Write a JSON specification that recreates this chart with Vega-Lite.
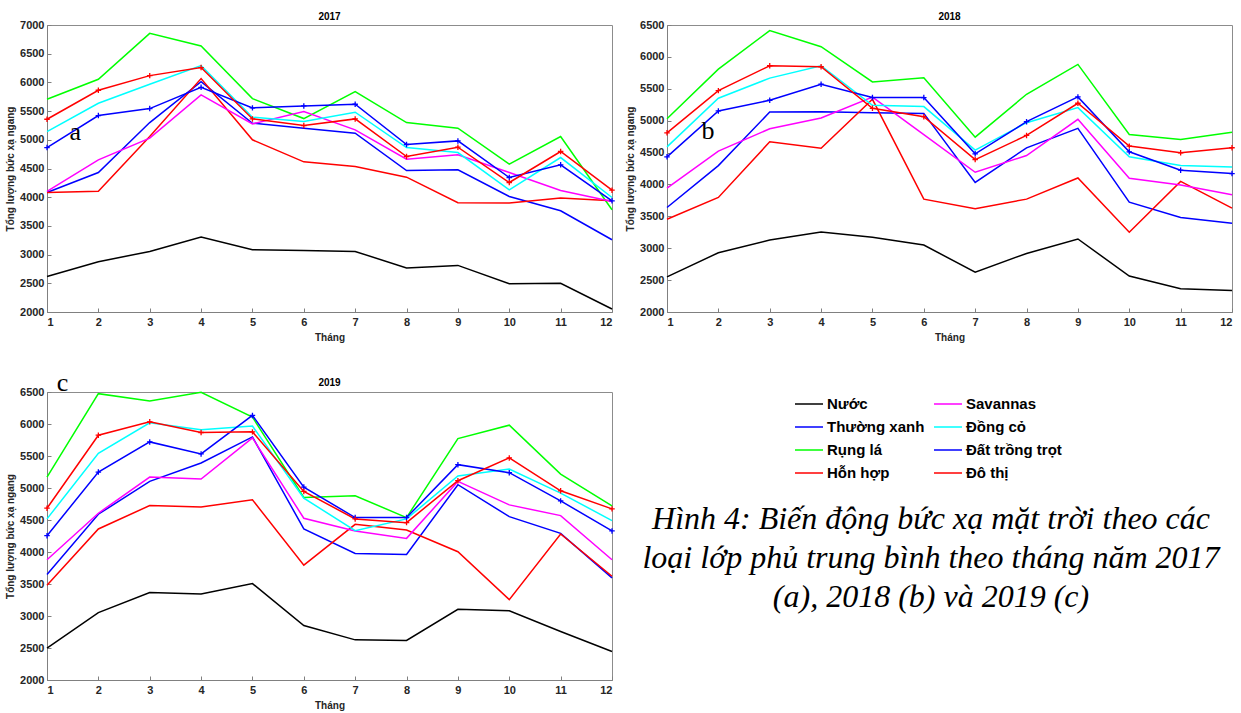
{
  "$schema": "https://vega.github.io/schema/vega-lite/v6.json",
  "padding": {"left": 5, "top": 11, "right": 0, "bottom": 0},
  "background": "white",
  "config": {
    "view": {"stroke": "#8c8c8c", "strokeWidth": 1},
    "axis": {
      "grid": false, "labelOverlap": false,
      "labelFont": "Liberation Sans", "labelFontWeight": "bold", "labelFontSize": 11, "labelColor": "#262626",
      "titleFont": "Liberation Sans", "titleFontWeight": "bold", "titleFontSize": 10, "titleColor": "#262626",
      "domainColor": "#808080", "tickColor": "#808080", "tickSize": -4
    },
    "axisX": {"labelPadding": 8, "titlePadding": 5},
    "axisY": {"labelPadding": 7, "titlePadding": 4},
    "title": {"font": "Liberation Sans", "fontWeight": "bold", "fontSize": 10, "color": "#000000", "offset": -3},
    "legend": {
      "labelFont": "Liberation Sans", "labelFontWeight": "bold", "labelFontSize": 15, "labelColor": "#000000",
      "symbolType": "stroke", "symbolSize": 784, "symbolStrokeWidth": 1.5, "labelOffset": 3,
      "rowPadding": 0, "columnPadding": 6, "padding": 0
    }
  },
  "datasets": {
    "d": [
      {"year":2017,"month":1,"type":"Nước","value":2620},{"year":2017,"month":2,"type":"Nước","value":2876},{"year":2017,"month":3,"type":"Nước","value":3055},{"year":2017,"month":4,"type":"Nước","value":3305},{"year":2017,"month":5,"type":"Nước","value":3085},{"year":2017,"month":6,"type":"Nước","value":3073},{"year":2017,"month":7,"type":"Nước","value":3055},{"year":2017,"month":8,"type":"Nước","value":2766},{"year":2017,"month":9,"type":"Nước","value":2812},{"year":2017,"month":10,"type":"Nước","value":2493},{"year":2017,"month":11,"type":"Nước","value":2500},{"year":2017,"month":12,"type":"Nước","value":2052},
      {"year":2017,"month":1,"type":"Thường xanh","value":4082},{"year":2017,"month":2,"type":"Thường xanh","value":4430},{"year":2017,"month":3,"type":"Thường xanh","value":5300},{"year":2017,"month":4,"type":"Thường xanh","value":6014},{"year":2017,"month":5,"type":"Thường xanh","value":5289},{"year":2017,"month":6,"type":"Thường xanh","value":5202},{"year":2017,"month":7,"type":"Thường xanh","value":5115},{"year":2017,"month":8,"type":"Thường xanh","value":4465},{"year":2017,"month":9,"type":"Thường xanh","value":4477},{"year":2017,"month":10,"type":"Thường xanh","value":4013},{"year":2017,"month":11,"type":"Thường xanh","value":3763},{"year":2017,"month":12,"type":"Thường xanh","value":3259},
      {"year":2017,"month":1,"type":"Rụng lá","value":5707},{"year":2017,"month":2,"type":"Rụng lá","value":6055},{"year":2017,"month":3,"type":"Rụng lá","value":6855},{"year":2017,"month":4,"type":"Rụng lá","value":6635},{"year":2017,"month":5,"type":"Rụng lá","value":5718},{"year":2017,"month":6,"type":"Rụng lá","value":5370},{"year":2017,"month":7,"type":"Rụng lá","value":5840},{"year":2017,"month":8,"type":"Rụng lá","value":5300},{"year":2017,"month":9,"type":"Rụng lá","value":5202},{"year":2017,"month":10,"type":"Rụng lá","value":4575},{"year":2017,"month":11,"type":"Rụng lá","value":5057},{"year":2017,"month":12,"type":"Rụng lá","value":3781},
      {"year":2017,"month":1,"type":"Hỗn hợp","value":4082},{"year":2017,"month":2,"type":"Hỗn hợp","value":4105},{"year":2017,"month":3,"type":"Hỗn hợp","value":5057},{"year":2017,"month":4,"type":"Hỗn hợp","value":6066},{"year":2017,"month":5,"type":"Hỗn hợp","value":5000},{"year":2017,"month":6,"type":"Hỗn hợp","value":4616},{"year":2017,"month":7,"type":"Hỗn hợp","value":4535},{"year":2017,"month":8,"type":"Hỗn hợp","value":4349},{"year":2017,"month":9,"type":"Hỗn hợp","value":3903},{"year":2017,"month":10,"type":"Hỗn hợp","value":3897},{"year":2017,"month":11,"type":"Hỗn hợp","value":3984},{"year":2017,"month":12,"type":"Hỗn hợp","value":3937},
      {"year":2017,"month":1,"type":"Savannas","value":4100},{"year":2017,"month":2,"type":"Savannas","value":4651},{"year":2017,"month":3,"type":"Savannas","value":5028},{"year":2017,"month":4,"type":"Savannas","value":5782},{"year":2017,"month":5,"type":"Savannas","value":5277},{"year":2017,"month":6,"type":"Savannas","value":5492},{"year":2017,"month":7,"type":"Savannas","value":5173},{"year":2017,"month":8,"type":"Savannas","value":4662},{"year":2017,"month":9,"type":"Savannas","value":4738},{"year":2017,"month":10,"type":"Savannas","value":4430},{"year":2017,"month":11,"type":"Savannas","value":4117},{"year":2017,"month":12,"type":"Savannas","value":3926},
      {"year":2017,"month":1,"type":"Đồng cỏ","value":5144},{"year":2017,"month":2,"type":"Đồng cỏ","value":5637},{"year":2017,"month":3,"type":"Đồng cỏ","value":5968},{"year":2017,"month":4,"type":"Đồng cỏ","value":6292},{"year":2017,"month":5,"type":"Đồng cỏ","value":5393},{"year":2017,"month":6,"type":"Đồng cỏ","value":5318},{"year":2017,"month":7,"type":"Đồng cỏ","value":5480},{"year":2017,"month":8,"type":"Đồng cỏ","value":4865},{"year":2017,"month":9,"type":"Đồng cỏ","value":4778},{"year":2017,"month":10,"type":"Đồng cỏ","value":4129},{"year":2017,"month":11,"type":"Đồng cỏ","value":4691},{"year":2017,"month":12,"type":"Đồng cỏ","value":3995},
      {"year":2017,"month":1,"type":"Đất trồng trọt","value":4865},{"year":2017,"month":2,"type":"Đất trồng trọt","value":5422},{"year":2017,"month":3,"type":"Đất trồng trọt","value":5544},{"year":2017,"month":4,"type":"Đất trồng trọt","value":5915},{"year":2017,"month":5,"type":"Đất trồng trọt","value":5556},{"year":2017,"month":6,"type":"Đất trồng trọt","value":5590},{"year":2017,"month":7,"type":"Đất trồng trọt","value":5619},{"year":2017,"month":8,"type":"Đất trồng trọt","value":4918},{"year":2017,"month":9,"type":"Đất trồng trọt","value":4981},{"year":2017,"month":10,"type":"Đất trồng trọt","value":4343},{"year":2017,"month":11,"type":"Đất trồng trọt","value":4564},{"year":2017,"month":12,"type":"Đất trồng trọt","value":3937},
      {"year":2017,"month":1,"type":"Đô thị","value":5358},{"year":2017,"month":2,"type":"Đô thị","value":5863},{"year":2017,"month":3,"type":"Đô thị","value":6118},{"year":2017,"month":4,"type":"Đô thị","value":6258},{"year":2017,"month":5,"type":"Đô thị","value":5364},{"year":2017,"month":6,"type":"Đô thị","value":5248},{"year":2017,"month":7,"type":"Đô thị","value":5364},{"year":2017,"month":8,"type":"Đô thị","value":4709},{"year":2017,"month":9,"type":"Đô thị","value":4871},{"year":2017,"month":10,"type":"Đô thị","value":4256},{"year":2017,"month":11,"type":"Đô thị","value":4796},{"year":2017,"month":12,"type":"Đô thị","value":4123},

      {"year":2018,"month":1,"type":"Nước","value":2551},{"year":2018,"month":2,"type":"Nước","value":2929},{"year":2018,"month":3,"type":"Nước","value":3129},{"year":2018,"month":4,"type":"Nước","value":3255},{"year":2018,"month":5,"type":"Nước","value":3171},{"year":2018,"month":6,"type":"Nước","value":3050},{"year":2018,"month":7,"type":"Nước","value":2624},{"year":2018,"month":8,"type":"Nước","value":2918},{"year":2018,"month":9,"type":"Nước","value":3145},{"year":2018,"month":10,"type":"Nước","value":2563},{"year":2018,"month":11,"type":"Nước","value":2363},{"year":2018,"month":12,"type":"Nước","value":2336},
      {"year":2018,"month":1,"type":"Thường xanh","value":3639},{"year":2018,"month":2,"type":"Thường xanh","value":4295},{"year":2018,"month":3,"type":"Thường xanh","value":5135},{"year":2018,"month":4,"type":"Thường xanh","value":5140},{"year":2018,"month":5,"type":"Thường xanh","value":5124},{"year":2018,"month":6,"type":"Thường xanh","value":5114},{"year":2018,"month":7,"type":"Thường xanh","value":4032},{"year":2018,"month":8,"type":"Thường xanh","value":4574},{"year":2018,"month":9,"type":"Thường xanh","value":4879},{"year":2018,"month":10,"type":"Thường xanh","value":3723},{"year":2018,"month":11,"type":"Thường xanh","value":3481},{"year":2018,"month":12,"type":"Thường xanh","value":3392},
      {"year":2018,"month":1,"type":"Rụng lá","value":5029},{"year":2018,"month":2,"type":"Rụng lá","value":5808},{"year":2018,"month":3,"type":"Rụng lá","value":6412},{"year":2018,"month":4,"type":"Rụng lá","value":6160},{"year":2018,"month":5,"type":"Rụng lá","value":5608},{"year":2018,"month":6,"type":"Rụng lá","value":5671},{"year":2018,"month":7,"type":"Rụng lá","value":4741},{"year":2018,"month":8,"type":"Rụng lá","value":5414},{"year":2018,"month":9,"type":"Rụng lá","value":5882},{"year":2018,"month":10,"type":"Rụng lá","value":4783},{"year":2018,"month":11,"type":"Rụng lá","value":4704},{"year":2018,"month":12,"type":"Rụng lá","value":4819},
      {"year":2018,"month":1,"type":"Hỗn hợp","value":3455},{"year":2018,"month":2,"type":"Hỗn hợp","value":3796},{"year":2018,"month":3,"type":"Hỗn hợp","value":4668},{"year":2018,"month":4,"type":"Hỗn hợp","value":4568},{"year":2018,"month":5,"type":"Hỗn hợp","value":5335},{"year":2018,"month":6,"type":"Hỗn hợp","value":3770},{"year":2018,"month":7,"type":"Hỗn hợp","value":3618},{"year":2018,"month":8,"type":"Hỗn hợp","value":3770},{"year":2018,"month":9,"type":"Hỗn hợp","value":4101},{"year":2018,"month":10,"type":"Hỗn hợp","value":3250},{"year":2018,"month":11,"type":"Hỗn hợp","value":4048},{"year":2018,"month":12,"type":"Hỗn hợp","value":3629},
      {"year":2018,"month":1,"type":"Savannas","value":3944},{"year":2018,"month":2,"type":"Savannas","value":4522},{"year":2018,"month":3,"type":"Savannas","value":4874},{"year":2018,"month":4,"type":"Savannas","value":5042},{"year":2018,"month":5,"type":"Savannas","value":5370},{"year":2018,"month":6,"type":"Savannas","value":4780},{"year":2018,"month":7,"type":"Savannas","value":4191},{"year":2018,"month":8,"type":"Savannas","value":4454},{"year":2018,"month":9,"type":"Savannas","value":5021},{"year":2018,"month":10,"type":"Savannas","value":4096},{"year":2018,"month":11,"type":"Savannas","value":3991},{"year":2018,"month":12,"type":"Savannas","value":3839},
      {"year":2018,"month":1,"type":"Đồng cỏ","value":4589},{"year":2018,"month":2,"type":"Đồng cỏ","value":5352},{"year":2018,"month":3,"type":"Đồng cỏ","value":5667},{"year":2018,"month":4,"type":"Đồng cỏ","value":5861},{"year":2018,"month":5,"type":"Đồng cỏ","value":5242},{"year":2018,"month":6,"type":"Đồng cỏ","value":5221},{"year":2018,"month":7,"type":"Đồng cỏ","value":4538},{"year":2018,"month":8,"type":"Đồng cỏ","value":4968},{"year":2018,"month":9,"type":"Đồng cỏ","value":5205},{"year":2018,"month":10,"type":"Đồng cỏ","value":4433},{"year":2018,"month":11,"type":"Đồng cỏ","value":4296},{"year":2018,"month":12,"type":"Đồng cỏ","value":4275},
      {"year":2018,"month":1,"type":"Đất trồng trọt","value":4433},{"year":2018,"month":2,"type":"Đất trồng trọt","value":5152},{"year":2018,"month":3,"type":"Đất trồng trọt","value":5320},{"year":2018,"month":4,"type":"Đất trồng trọt","value":5572},{"year":2018,"month":5,"type":"Đất trồng trọt","value":5362},{"year":2018,"month":6,"type":"Đất trồng trọt","value":5362},{"year":2018,"month":7,"type":"Đất trồng trọt","value":4480},{"year":2018,"month":8,"type":"Đất trồng trọt","value":4984},{"year":2018,"month":9,"type":"Đất trồng trọt","value":5373},{"year":2018,"month":10,"type":"Đất trồng trọt","value":4512},{"year":2018,"month":11,"type":"Đất trồng trọt","value":4223},{"year":2018,"month":12,"type":"Đất trồng trọt","value":4170},
      {"year":2018,"month":1,"type":"Đô thị","value":4809},{"year":2018,"month":2,"type":"Đô thị","value":5471},{"year":2018,"month":3,"type":"Đô thị","value":5861},{"year":2018,"month":4,"type":"Đô thị","value":5845},{"year":2018,"month":5,"type":"Đô thị","value":5194},{"year":2018,"month":6,"type":"Đô thị","value":5063},{"year":2018,"month":7,"type":"Đô thị","value":4390},{"year":2018,"month":8,"type":"Đô thị","value":4768},{"year":2018,"month":9,"type":"Đô thị","value":5273},{"year":2018,"month":10,"type":"Đô thị","value":4601},{"year":2018,"month":11,"type":"Đô thị","value":4496},{"year":2018,"month":12,"type":"Đô thị","value":4575},

      {"year":2019,"month":1,"type":"Nước","value":2497},{"year":2019,"month":2,"type":"Nước","value":3052},{"year":2019,"month":3,"type":"Nước","value":3366},{"year":2019,"month":4,"type":"Nước","value":3345},{"year":2019,"month":5,"type":"Nước","value":3507},{"year":2019,"month":6,"type":"Nước","value":2852},{"year":2019,"month":7,"type":"Nước","value":2627},{"year":2019,"month":8,"type":"Nước","value":2617},{"year":2019,"month":9,"type":"Nước","value":3104},{"year":2019,"month":10,"type":"Nước","value":3083},{"year":2019,"month":11,"type":"Nước","value":2758},{"year":2019,"month":12,"type":"Nước","value":2445},
      {"year":2019,"month":1,"type":"Thường xanh","value":3648},{"year":2019,"month":2,"type":"Thường xanh","value":4590},{"year":2019,"month":3,"type":"Thường xanh","value":5103},{"year":2019,"month":4,"type":"Thường xanh","value":5390},{"year":2019,"month":5,"type":"Thường xanh","value":5798},{"year":2019,"month":6,"type":"Thường xanh","value":4360},{"year":2019,"month":7,"type":"Thường xanh","value":3978},{"year":2019,"month":8,"type":"Thường xanh","value":3962},{"year":2019,"month":9,"type":"Thường xanh","value":5051},{"year":2019,"month":10,"type":"Thường xanh","value":4553},{"year":2019,"month":11,"type":"Thường xanh","value":4291},{"year":2019,"month":12,"type":"Thường xanh","value":3595},
      {"year":2019,"month":1,"type":"Rụng lá","value":5171},{"year":2019,"month":2,"type":"Rụng lá","value":6474},{"year":2019,"month":3,"type":"Rụng lá","value":6359},{"year":2019,"month":4,"type":"Rụng lá","value":6495},{"year":2019,"month":5,"type":"Rụng lá","value":6107},{"year":2019,"month":6,"type":"Rụng lá","value":4852},{"year":2019,"month":7,"type":"Rụng lá","value":4878},{"year":2019,"month":8,"type":"Rụng lá","value":4538},{"year":2019,"month":9,"type":"Rụng lá","value":5773},{"year":2019,"month":10,"type":"Rụng lá","value":5982},{"year":2019,"month":11,"type":"Rụng lá","value":5218},{"year":2019,"month":12,"type":"Rụng lá","value":4721},
      {"year":2019,"month":1,"type":"Hỗn hợp","value":3481},{"year":2019,"month":2,"type":"Hỗn hợp","value":4360},{"year":2019,"month":3,"type":"Hỗn hợp","value":4726},{"year":2019,"month":4,"type":"Hỗn hợp","value":4705},{"year":2019,"month":5,"type":"Hỗn hợp","value":4815},{"year":2019,"month":6,"type":"Hỗn hợp","value":3795},{"year":2019,"month":7,"type":"Hỗn hợp","value":4433},{"year":2019,"month":8,"type":"Hỗn hợp","value":4344},{"year":2019,"month":9,"type":"Hỗn hợp","value":4004},{"year":2019,"month":10,"type":"Hỗn hợp","value":3256},{"year":2019,"month":11,"type":"Hỗn hợp","value":4281},{"year":2019,"month":12,"type":"Hỗn hợp","value":3621},
      {"year":2019,"month":1,"type":"Savannas","value":3879},{"year":2019,"month":2,"type":"Savannas","value":4606},{"year":2019,"month":3,"type":"Savannas","value":5171},{"year":2019,"month":4,"type":"Savannas","value":5139},{"year":2019,"month":5,"type":"Savannas","value":5783},{"year":2019,"month":6,"type":"Savannas","value":4527},{"year":2019,"month":7,"type":"Savannas","value":4329},{"year":2019,"month":8,"type":"Savannas","value":4213},{"year":2019,"month":9,"type":"Savannas","value":5103},{"year":2019,"month":10,"type":"Savannas","value":4736},{"year":2019,"month":11,"type":"Savannas","value":4569},{"year":2019,"month":12,"type":"Savannas","value":3879},
      {"year":2019,"month":1,"type":"Đồng cỏ","value":4517},{"year":2019,"month":2,"type":"Đồng cỏ","value":5543},{"year":2019,"month":3,"type":"Đồng cỏ","value":6019},{"year":2019,"month":4,"type":"Đồng cỏ","value":5909},{"year":2019,"month":5,"type":"Đồng cỏ","value":5967},{"year":2019,"month":6,"type":"Đồng cỏ","value":4841},{"year":2019,"month":7,"type":"Đồng cỏ","value":4334},{"year":2019,"month":8,"type":"Đồng cỏ","value":4517},{"year":2019,"month":9,"type":"Đồng cỏ","value":5187},{"year":2019,"month":10,"type":"Đồng cỏ","value":5297},{"year":2019,"month":11,"type":"Đồng cỏ","value":4920},{"year":2019,"month":12,"type":"Đồng cỏ","value":4491},
      {"year":2019,"month":1,"type":"Đất trồng trọt","value":4255},{"year":2019,"month":2,"type":"Đất trồng trọt","value":5249},{"year":2019,"month":3,"type":"Đất trồng trọt","value":5720},{"year":2019,"month":4,"type":"Đất trồng trọt","value":5532},{"year":2019,"month":5,"type":"Đất trồng trọt","value":6134},{"year":2019,"month":6,"type":"Đất trồng trọt","value":5014},{"year":2019,"month":7,"type":"Đất trồng trọt","value":4538},{"year":2019,"month":8,"type":"Đất trồng trọt","value":4538},{"year":2019,"month":9,"type":"Đất trồng trọt","value":5365},{"year":2019,"month":10,"type":"Đất trồng trọt","value":5239},{"year":2019,"month":11,"type":"Đất trồng trọt","value":4799},{"year":2019,"month":12,"type":"Đất trồng trọt","value":4329},
      {"year":2019,"month":1,"type":"Đô thị","value":4684},{"year":2019,"month":2,"type":"Đô thị","value":5825},{"year":2019,"month":3,"type":"Đô thị","value":6034},{"year":2019,"month":4,"type":"Đô thị","value":5867},{"year":2019,"month":5,"type":"Đô thị","value":5877},{"year":2019,"month":6,"type":"Đô thị","value":4946},{"year":2019,"month":7,"type":"Đô thị","value":4517},{"year":2019,"month":8,"type":"Đô thị","value":4459},{"year":2019,"month":9,"type":"Đô thị","value":5114},{"year":2019,"month":10,"type":"Đô thị","value":5470},{"year":2019,"month":11,"type":"Đô thị","value":4956},{"year":2019,"month":12,"type":"Đô thị","value":4674}
    ]
  },
  "spacing": 26,
  "vconcat": [
    {
      "spacing": 7,
      "hconcat": [
        {
          "width": 565, "height": 287,
          "title": {"text": "2017"},
          "layer": [
            {
              "data": {"name": "d"},
              "transform": [{"filter": "datum.year == 2017"}],
              "mark": {"type": "line", "strokeWidth": 1.5},
              "encoding": {
                "x": {"field": "month", "type": "quantitative", "scale": {"domain": [1, 12], "nice": false}, "axis": {"values": [1,2,3,4,5,6,7,8,9,10,11,12], "tickCount": 12, "format": "d", "title": "Tháng"}},
                "y": {"field": "value", "type": "quantitative", "scale": {"domain": [2000, 7000], "nice": false}, "axis": {"values": [2000,2500,3000,3500,4000,4500,5000,5500,6000,6500,7000], "tickCount": 11, "format": "d", "title": "Tổng lượng bức xạ ngang"}},
                "color": {"field": "type", "type": "nominal", "scale": {"domain": ["Nước","Thường xanh","Rụng lá","Hỗn hợp","Savannas","Đồng cỏ","Đất trồng trọt","Đô thị"], "range": ["#000000","#0000ff","#00ff00","#ff0000","#ff00ff","#00ffff","#0000ff","#ff0000"]}, "legend": {"orient": "none", "legendX": 747, "legendY": 364, "columns": 2, "title": null}}
              }
            },
            {
              "data": {"name": "d"},
              "transform": [{"filter": "datum.year == 2017 && (datum.type == 'Đất trồng trọt' || datum.type == 'Đô thị')"}],
              "mark": {"type": "point", "shape": "M-1,0L1,0M0,-1L0,1", "filled": false, "size": 30, "strokeWidth": 1.3, "opacity": 1},
              "encoding": {
                "x": {"field": "month", "type": "quantitative", "scale": {"domain": [1, 12], "nice": false}, "axis": {"values": [1,2,3,4,5,6,7,8,9,10,11,12], "tickCount": 12, "format": "d", "title": "Tháng"}},
                "y": {"field": "value", "type": "quantitative", "scale": {"domain": [2000, 7000], "nice": false}, "axis": {"values": [2000,2500,3000,3500,4000,4500,5000,5500,6000,6500,7000], "tickCount": 11, "format": "d", "title": "Tổng lượng bức xạ ngang"}},
                "color": {"field": "type", "type": "nominal", "legend": null}
              }
            },
            {
              "data": {"values": [{}]},
              "mark": {"type": "text", "font": "Liberation Serif", "fontSize": 26, "color": "#000000"},
              "encoding": {
                "x": {"datum": 1.55, "type": "quantitative", "scale": {"domain": [1, 12], "nice": false}, "axis": {"values": [1,2,3,4,5,6,7,8,9,10,11,12], "tickCount": 12, "format": "d", "title": "Tháng"}},
                "y": {"datum": 5130, "type": "quantitative", "scale": {"domain": [2000, 7000], "nice": false}, "axis": {"values": [2000,2500,3000,3500,4000,4500,5000,5500,6000,6500,7000], "tickCount": 11, "format": "d", "title": "Tổng lượng bức xạ ngang"}},
                "text": {"value": "a"}
              }
            }
          ]
        },
        {
          "width": 565, "height": 287,
          "title": {"text": "2018"},
          "layer": [
            {
              "data": {"name": "d"},
              "transform": [{"filter": "datum.year == 2018"}],
              "mark": {"type": "line", "strokeWidth": 1.5},
              "encoding": {
                "x": {"field": "month", "type": "quantitative", "scale": {"domain": [1, 12], "nice": false}, "axis": {"values": [1,2,3,4,5,6,7,8,9,10,11,12], "tickCount": 12, "format": "d", "title": "Tháng"}},
                "y": {"field": "value", "type": "quantitative", "scale": {"domain": [2000, 6500], "nice": false}, "axis": {"values": [2000,2500,3000,3500,4000,4500,5000,5500,6000,6500], "tickCount": 10, "format": "d", "title": "Tổng lượng bức xạ ngang"}},
                "color": {"field": "type", "type": "nominal", "legend": {"orient": "none", "legendX": 747, "legendY": 364, "columns": 2, "title": null}}
              }
            },
            {
              "data": {"name": "d"},
              "transform": [{"filter": "datum.year == 2018 && (datum.type == 'Đất trồng trọt' || datum.type == 'Đô thị')"}],
              "mark": {"type": "point", "shape": "M-1,0L1,0M0,-1L0,1", "filled": false, "size": 30, "strokeWidth": 1.3, "opacity": 1},
              "encoding": {
                "x": {"field": "month", "type": "quantitative", "scale": {"domain": [1, 12], "nice": false}, "axis": {"values": [1,2,3,4,5,6,7,8,9,10,11,12], "tickCount": 12, "format": "d", "title": "Tháng"}},
                "y": {"field": "value", "type": "quantitative", "scale": {"domain": [2000, 6500], "nice": false}, "axis": {"values": [2000,2500,3000,3500,4000,4500,5000,5500,6000,6500], "tickCount": 10, "format": "d", "title": "Tổng lượng bức xạ ngang"}},
                "color": {"field": "type", "type": "nominal", "legend": null}
              }
            },
            {
              "data": {"values": [{}]},
              "mark": {"type": "text", "font": "Liberation Serif", "fontSize": 26, "color": "#000000"},
              "encoding": {
                "x": {"datum": 1.8, "type": "quantitative", "scale": {"domain": [1, 12], "nice": false}, "axis": {"values": [1,2,3,4,5,6,7,8,9,10,11,12], "tickCount": 12, "format": "d", "title": "Tháng"}},
                "y": {"datum": 4840, "type": "quantitative", "scale": {"domain": [2000, 6500], "nice": false}, "axis": {"values": [2000,2500,3000,3500,4000,4500,5000,5500,6000,6500], "tickCount": 10, "format": "d", "title": "Tổng lượng bức xạ ngang"}},
                "text": {"value": "b"}
              }
            }
          ]
        }
      ]
    },
    {
      "spacing": 13,
      "hconcat": [
        {
          "width": 565, "height": 288,
          "title": {"text": "2019", "offset": -18},
          "layer": [
            {
              "data": {"name": "d"},
              "transform": [{"filter": "datum.year == 2019"}],
              "mark": {"type": "line", "strokeWidth": 1.5},
              "encoding": {
                "x": {"field": "month", "type": "quantitative", "scale": {"domain": [1, 12], "nice": false}, "axis": {"values": [1,2,3,4,5,6,7,8,9,10,11,12], "tickCount": 12, "format": "d", "title": "Tháng"}},
                "y": {"field": "value", "type": "quantitative", "scale": {"domain": [2000, 6500], "nice": false}, "axis": {"values": [2000,2500,3000,3500,4000,4500,5000,5500,6000,6500], "tickCount": 10, "format": "d", "title": "Tổng lượng bức xạ ngang"}},
                "color": {"field": "type", "type": "nominal", "legend": {"orient": "none", "legendX": 747, "legendY": 364, "columns": 2, "title": null}}
              }
            },
            {
              "data": {"name": "d"},
              "transform": [{"filter": "datum.year == 2019 && (datum.type == 'Đất trồng trọt' || datum.type == 'Đô thị')"}],
              "mark": {"type": "point", "shape": "M-1,0L1,0M0,-1L0,1", "filled": false, "size": 30, "strokeWidth": 1.3, "opacity": 1},
              "encoding": {
                "x": {"field": "month", "type": "quantitative", "scale": {"domain": [1, 12], "nice": false}, "axis": {"values": [1,2,3,4,5,6,7,8,9,10,11,12], "tickCount": 12, "format": "d", "title": "Tháng"}},
                "y": {"field": "value", "type": "quantitative", "scale": {"domain": [2000, 6500], "nice": false}, "axis": {"values": [2000,2500,3000,3500,4000,4500,5000,5500,6000,6500], "tickCount": 10, "format": "d", "title": "Tổng lượng bức xạ ngang"}},
                "color": {"field": "type", "type": "nominal", "legend": null}
              }
            },
            {
              "data": {"values": [{}]},
              "mark": {"type": "text", "font": "Liberation Serif", "fontSize": 26, "color": "#000000"},
              "encoding": {
                "x": {"datum": 1.3, "type": "quantitative", "scale": {"domain": [1, 12], "nice": false}, "axis": {"values": [1,2,3,4,5,6,7,8,9,10,11,12], "tickCount": 12, "format": "d", "title": "Tháng"}},
                "y": {"datum": 6645, "type": "quantitative", "scale": {"domain": [2000, 6500], "nice": false}, "axis": {"values": [2000,2500,3000,3500,4000,4500,5000,5500,6000,6500], "tickCount": 10, "format": "d", "title": "Tổng lượng bức xạ ngang"}},
                "text": {"value": "c"}
              }
            }
          ]
        },
        {
          "width": 600, "height": 234,
          "view": {"stroke": null},
          "data": {"values": [
            {"line": 1, "text": "Hình 4: Biến động bức xạ mặt trời theo các"},
            {"line": 2, "text": "loại lớp phủ trung bình theo tháng năm 2017"},
            {"line": 3, "text": "(a), 2018 (b) và 2019 (c)"}
          ]},
          "mark": {"type": "text", "font": "Liberation Serif", "fontStyle": "italic", "fontSize": 32, "align": "center", "baseline": "middle", "color": "#000000"},
          "encoding": {
            "y": {"field": "line", "type": "quantitative", "axis": null, "scale": {"domain": [-2.26, 3.74], "reverse": true, "nice": false, "zero": false}},
            "text": {"field": "text"}
          }
        }
      ]
    }
  ]
}
